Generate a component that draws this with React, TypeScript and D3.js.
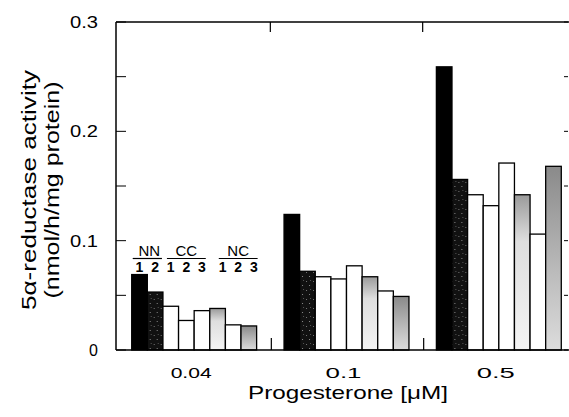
import React from "react";
import * as d3 from "d3";

// progesterone concentrations (µM)
const concentrations = ["0.04", "0.1", "0.5"];
const seriesKeys = ["NN1", "NN2", "CC1", "CC2", "CC3", "NC1", "NC2", "NC3"];

// 5a-reductase activity, nmol/h/mg protein
const nn1 = [0.069, 0.124, 0.259];
const nn2 = [0.053, 0.072, 0.156];
const cc1 = [0.040, 0.067, 0.142];
const cc2 = [0.027, 0.065, 0.132];
const cc3 = [0.036, 0.077, 0.171];
const nc1 = [0.038, 0.067, 0.142];
const nc2 = [0.023, 0.054, 0.106];
const nc3 = [0.022, 0.049, 0.168];

const yMajor = [0, 0.1, 0.2, 0.3];
const yMinor = [0.05, 0.15, 0.25];

const legendGroups = [
  { name: "NN", keys: ["NN1", "NN2"], nums: ["1", "2"], dx: 0 },
  { name: "CC", keys: ["CC1", "CC2", "CC3"], nums: ["1", "2", "3"], dx: 0 },
  { name: "NC", keys: ["NC1", "NC2", "NC3"], nums: ["1", "2", "3"], dx: 5 },
];

const FONT = "'Liberation Sans', Arial, Helvetica, sans-serif";

const fills: Record<string, string> = {
  NN1: "#000",
  NN2: "url(#darkStipple)",
  CC1: "#fff",
  CC2: "#fff",
  CC3: "#fff",
  NC1: "url(#gradNC1)",
  NC2: "#fff",
  NC3: "url(#gradNC3)",
};

const App = () => {
  const width = 569;
  const height = 417;
  const left = 116;
  const right = 568;
  const top = 22;
  const bottom = 350;

  const rows = concentrations.map((c, i) => ({
    conc: c,
    NN1: nn1[i],
    NN2: nn2[i],
    CC1: cc1[i],
    CC2: cc2[i],
    CC3: cc3[i],
    NC1: nc1[i],
    NC2: nc2[i],
    NC3: nc3[i],
  }));

  const x0 = d3
    .scaleBand()
    .domain(concentrations)
    .range([118, 575])
    .paddingInner(0.18)
    .paddingOuter(0.09);

  const x1 = d3.scaleBand().domain(seriesKeys).range([0, x0.bandwidth()]);

  const y = d3.scaleLinear().domain([0, 0.3]).range([bottom, top]);

  const gap = x0.step() - x0.bandwidth();
  // separators between concentration groups
  const separators = concentrations
    .slice(0, -1)
    .map((c) => (x0(c) as number) + x0.bandwidth() + gap / 2);

  const g0 = x0(concentrations[0]) as number;
  const tickLens: Record<string, number> = { "0.04": 41, "0.1": 36, "0.5": 38 };

  return (
    <svg width={width} height={height} style={{ display: "block", position: "absolute", left: 0, top: 0 }}>
      <defs>
        <pattern id="darkStipple" width="7" height="9" patternUnits="userSpaceOnUse">
          <rect width="7" height="9" fill="#111" />
          <rect x="1" y="2" width="1" height="1" fill="#777" />
          <rect x="4" y="6" width="1" height="1" fill="#888" />
          <rect x="5" y="1" width="1" height="1" fill="#555" />
        </pattern>
        <linearGradient id="gradNC1" x1="0" y1="0" x2="0" y2="1">
          <stop offset="0" stopColor="#9a9a9a" />
          <stop offset="0.3" stopColor="#dedede" />
          <stop offset="1" stopColor="#f4f4f4" />
        </linearGradient>
        <linearGradient id="gradNC3" x1="0" y1="0" x2="0" y2="1">
          <stop offset="0" stopColor="#8a8a8a" />
          <stop offset="0.6" stopColor="#bdbdbd" />
          <stop offset="1" stopColor="#dcdcdc" />
        </linearGradient>
      </defs>

      {/* bars */}
      {rows.map((r) => (
        <g key={r.conc} transform={`translate(${x0(r.conc)},0)`}>
          {seriesKeys.map((k) => {
            const v = (r as any)[k] as number;
            return (
              <rect
                key={k}
                x={x1(k)}
                y={y(v)}
                width={x1.bandwidth()}
                height={bottom - y(v)}
                fill={fills[k]}
                stroke="#000"
                strokeWidth={1.3}
              />
            );
          })}
        </g>
      ))}

      {/* frame */}
      <line x1={left} x2={width} y1={top} y2={top} stroke="#000" strokeWidth={1.3} />
      <line x1={left} x2={width} y1={bottom} y2={bottom} stroke="#000" strokeWidth={1.3} />
      <line x1={left} x2={left} y1={top} y2={bottom} stroke="#000" strokeWidth={1.5} />

      {/* y ticks, inward */}
      {[...yMajor, ...yMinor].map((v) => (
        <g key={"t" + v}>
          <line x1={left} x2={left + 10} y1={y(v)} y2={y(v)} stroke="#000" strokeWidth={1} />
          <line x1={right - 4} x2={right} y1={y(v)} y2={y(v)} stroke="#000" strokeWidth={1} />
        </g>
      ))}
      {yMajor.map((v) => (
        <text
          key={"l" + v}
          x={98}
          y={y(v)}
          dy="0.38em"
          textAnchor="end"
          fontFamily={FONT}
          fontSize={16}
          textLength={v === 0 ? undefined : 28}
          lengthAdjust="spacingAndGlyphs"
        >
          {v === 0 ? "0" : d3.format(".1f")(v)}
        </text>
      ))}

      {/* group separator ticks */}
      {separators.map((s, i) => (
        <g key={"s" + i}>
          <line x1={s} x2={s} y1={top} y2={top + 10} stroke="#000" strokeWidth={1.2} />
          <line x1={s + 1} x2={s + 1} y1={bottom - 12} y2={bottom} stroke="#000" strokeWidth={1.2} />
        </g>
      ))}

      {/* x tick labels */}
      {concentrations.map((c) => (
        <text
          key={c}
          x={(x0(c) as number) + x0.bandwidth() / 2 - 3}
          y={378}
          textAnchor="middle"
          fontFamily={FONT}
          fontSize={15}
          textLength={tickLens[c]}
          lengthAdjust="spacingAndGlyphs"
        >
          {c}
        </text>
      ))}

      {/* axis titles */}
      <text
        x={348}
        y={399}
        textAnchor="middle"
        fontFamily={FONT}
        fontSize={19}
        textLength={200}
        lengthAdjust="spacingAndGlyphs"
      >
        Progesterone [μM]
      </text>
      <g transform="translate(36,190) rotate(-90)">
        <text textAnchor="middle" fontFamily={FONT} fontSize={21} textLength={240} lengthAdjust="spacingAndGlyphs">
          5α-reductase activity
        </text>
      </g>
      <g transform="translate(59,190) rotate(-90)">
        <text textAnchor="middle" fontFamily={FONT} fontSize={21} textLength={217} lengthAdjust="spacingAndGlyphs">
          (nmol/h/mg protein)
        </text>
      </g>

      {/* group legend over the first concentration */}
      {legendGroups.map((lg) => {
        const first = g0 + (x1(lg.keys[0]) as number);
        const last = g0 + (x1(lg.keys[lg.keys.length - 1]) as number) + x1.bandwidth();
        const inset = lg.name === "NN" ? 1 : 4;
        const lx1 = first + inset + lg.dx;
        const lx2 = last - inset + lg.dx;
        return (
          <g key={lg.name}>
            <text
              x={(lx1 + lx2) / 2 + (lg.name === "NN" ? 2 : 0)}
              y={256}
              textAnchor="middle"
              fontFamily={FONT}
              fontSize={15}
            >
              {lg.name}
            </text>
            <line x1={lx1} x2={lx2} y1={258.5} y2={258.5} stroke="#000" strokeWidth={1.2} />
            {lg.keys.map((k, j) => (
              <text
                key={k}
                x={g0 + (x1(k) as number) + x1.bandwidth() / 2 + lg.dx}
                y={272}
                textAnchor="middle"
                fontFamily={FONT}
                fontSize={14}
                fontWeight="bold"
              >
                {lg.nums[j]}
              </text>
            ))}
          </g>
        );
      })}
    </svg>
  );
};

export default App;
